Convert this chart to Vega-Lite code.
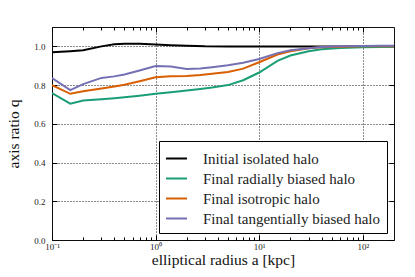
{
  "$schema": "https://vega.github.io/schema/vega-lite/v6.json",
  "width": 342,
  "height": 213,
  "autosize": {"type": "none"},
  "padding": {"left": 52, "top": 27, "right": 21, "bottom": 37},
  "background": "white",
  "config": {
    "view": {"stroke": "#111", "strokeWidth": 1},
    "font": "Liberation Serif",
    "axis": {"labelFont": "Liberation Serif", "titleFont": "Liberation Serif", "labelColor": "#222", "titleColor": "#111", "titleFontWeight": "normal"},
    "legend": {"labelFont": "Liberation Serif", "titleFont": "Liberation Serif"}
  },
  "datasets": {
    "halo": [
      {"r": 0.1, "q": 0.970, "s": "Initial isolated halo"},
      {"r": 0.15, "q": 0.975, "s": "Initial isolated halo"},
      {"r": 0.2, "q": 0.980, "s": "Initial isolated halo"},
      {"r": 0.3, "q": 1.000, "s": "Initial isolated halo"},
      {"r": 0.4, "q": 1.011, "s": "Initial isolated halo"},
      {"r": 0.5, "q": 1.014, "s": "Initial isolated halo"},
      {"r": 0.7, "q": 1.014, "s": "Initial isolated halo"},
      {"r": 1, "q": 1.009, "s": "Initial isolated halo"},
      {"r": 1.4, "q": 1.006, "s": "Initial isolated halo"},
      {"r": 2, "q": 1.003, "s": "Initial isolated halo"},
      {"r": 3, "q": 1.000, "s": "Initial isolated halo"},
      {"r": 5, "q": 0.999, "s": "Initial isolated halo"},
      {"r": 10, "q": 0.999, "s": "Initial isolated halo"},
      {"r": 20, "q": 0.999, "s": "Initial isolated halo"},
      {"r": 50, "q": 0.999, "s": "Initial isolated halo"},
      {"r": 100, "q": 0.999, "s": "Initial isolated halo"},
      {"r": 200, "q": 0.999, "s": "Initial isolated halo"},

      {"r": 0.1, "q": 0.759, "s": "Final radially biased halo"},
      {"r": 0.15, "q": 0.704, "s": "Final radially biased halo"},
      {"r": 0.2, "q": 0.720, "s": "Final radially biased halo"},
      {"r": 0.3, "q": 0.727, "s": "Final radially biased halo"},
      {"r": 0.4, "q": 0.732, "s": "Final radially biased halo"},
      {"r": 0.5, "q": 0.737, "s": "Final radially biased halo"},
      {"r": 0.7, "q": 0.745, "s": "Final radially biased halo"},
      {"r": 1, "q": 0.755, "s": "Final radially biased halo"},
      {"r": 1.4, "q": 0.763, "s": "Final radially biased halo"},
      {"r": 2, "q": 0.772, "s": "Final radially biased halo"},
      {"r": 2.7, "q": 0.780, "s": "Final radially biased halo"},
      {"r": 3.5, "q": 0.787, "s": "Final radially biased halo"},
      {"r": 5, "q": 0.800, "s": "Final radially biased halo"},
      {"r": 7, "q": 0.825, "s": "Final radially biased halo"},
      {"r": 10, "q": 0.865, "s": "Final radially biased halo"},
      {"r": 15, "q": 0.925, "s": "Final radially biased halo"},
      {"r": 20, "q": 0.953, "s": "Final radially biased halo"},
      {"r": 30, "q": 0.975, "s": "Final radially biased halo"},
      {"r": 40, "q": 0.985, "s": "Final radially biased halo"},
      {"r": 60, "q": 0.992, "s": "Final radially biased halo"},
      {"r": 100, "q": 0.996, "s": "Final radially biased halo"},
      {"r": 150, "q": 0.997, "s": "Final radially biased halo"},
      {"r": 200, "q": 0.998, "s": "Final radially biased halo"},

      {"r": 0.1, "q": 0.800, "s": "Final isotropic halo"},
      {"r": 0.15, "q": 0.755, "s": "Final isotropic halo"},
      {"r": 0.2, "q": 0.768, "s": "Final isotropic halo"},
      {"r": 0.3, "q": 0.782, "s": "Final isotropic halo"},
      {"r": 0.4, "q": 0.793, "s": "Final isotropic halo"},
      {"r": 0.5, "q": 0.802, "s": "Final isotropic halo"},
      {"r": 0.7, "q": 0.820, "s": "Final isotropic halo"},
      {"r": 1, "q": 0.840, "s": "Final isotropic halo"},
      {"r": 1.4, "q": 0.846, "s": "Final isotropic halo"},
      {"r": 2, "q": 0.847, "s": "Final isotropic halo"},
      {"r": 2.7, "q": 0.852, "s": "Final isotropic halo"},
      {"r": 3.5, "q": 0.858, "s": "Final isotropic halo"},
      {"r": 5, "q": 0.868, "s": "Final isotropic halo"},
      {"r": 7, "q": 0.885, "s": "Final isotropic halo"},
      {"r": 10, "q": 0.918, "s": "Final isotropic halo"},
      {"r": 15, "q": 0.958, "s": "Final isotropic halo"},
      {"r": 20, "q": 0.975, "s": "Final isotropic halo"},
      {"r": 30, "q": 0.990, "s": "Final isotropic halo"},
      {"r": 40, "q": 0.995, "s": "Final isotropic halo"},
      {"r": 60, "q": 0.998, "s": "Final isotropic halo"},
      {"r": 100, "q": 1.000, "s": "Final isotropic halo"},
      {"r": 150, "q": 1.000, "s": "Final isotropic halo"},
      {"r": 200, "q": 1.000, "s": "Final isotropic halo"},

      {"r": 0.1, "q": 0.836, "s": "Final tangentially biased halo"},
      {"r": 0.15, "q": 0.774, "s": "Final tangentially biased halo"},
      {"r": 0.2, "q": 0.805, "s": "Final tangentially biased halo"},
      {"r": 0.3, "q": 0.837, "s": "Final tangentially biased halo"},
      {"r": 0.4, "q": 0.845, "s": "Final tangentially biased halo"},
      {"r": 0.5, "q": 0.855, "s": "Final tangentially biased halo"},
      {"r": 0.7, "q": 0.875, "s": "Final tangentially biased halo"},
      {"r": 1, "q": 0.898, "s": "Final tangentially biased halo"},
      {"r": 1.4, "q": 0.896, "s": "Final tangentially biased halo"},
      {"r": 2, "q": 0.883, "s": "Final tangentially biased halo"},
      {"r": 2.7, "q": 0.886, "s": "Final tangentially biased halo"},
      {"r": 3.5, "q": 0.892, "s": "Final tangentially biased halo"},
      {"r": 5, "q": 0.902, "s": "Final tangentially biased halo"},
      {"r": 7, "q": 0.915, "s": "Final tangentially biased halo"},
      {"r": 10, "q": 0.935, "s": "Final tangentially biased halo"},
      {"r": 15, "q": 0.965, "s": "Final tangentially biased halo"},
      {"r": 20, "q": 0.980, "s": "Final tangentially biased halo"},
      {"r": 30, "q": 0.990, "s": "Final tangentially biased halo"},
      {"r": 40, "q": 0.997, "s": "Final tangentially biased halo"},
      {"r": 60, "q": 1.000, "s": "Final tangentially biased halo"},
      {"r": 100, "q": 1.002, "s": "Final tangentially biased halo"},
      {"r": 150, "q": 1.003, "s": "Final tangentially biased halo"},
      {"r": 200, "q": 1.003, "s": "Final tangentially biased halo"}
    ]
  },
  "data": {"name": "halo"},
  "resolve": {"axis": {"x": "independent", "y": "independent"}},
  "layer": [
    {
      "mark": {"type": "line", "strokeWidth": 2, "clip": true},
      "encoding": {
        "x": {"field": "r", "type": "quantitative",
          "scale": {"type": "log", "domain": [0.1, 200], "nice": false},
          "axis": {"orient": "bottom", "values": [0.1, 1, 10, 100], "labelExpr": "datum.value < 0.5 ? '10⁻¹' : datum.value < 5 ? '10⁰' : datum.value < 50 ? '10¹' : '10²'",
            "ticks": false, "domain": false, "grid": true, "gridColor": "#000", "gridDash": [1, 2], "gridOpacity": 0.9, "gridWidth": 1,
            "labelFontSize": 9, "labelPadding": 2, "labelFlush": false,
            "title": "elliptical radius a [kpc]", "titleFontSize": 15.5, "titlePadding": 1}},
        "y": {"field": "q", "type": "quantitative",
          "scale": {"domain": [0, 1.1], "nice": false, "zero": false},
          "axis": {"orient": "left", "values": [0, 0.2, 0.4, 0.6, 0.8, 1.0], "format": ".1f",
            "ticks": false, "domain": false, "grid": true, "gridColor": "#000", "gridDash": [1, 2], "gridOpacity": 0.9, "gridWidth": 1,
            "labelFontSize": 9, "labelPadding": 7, "labelFlush": false,
            "title": "axis ratio q", "titleFontSize": 15.5, "titlePadding": 12}},
        "color": {"field": "s", "type": "nominal",
          "scale": {"domain": ["Initial isolated halo", "Final radially biased halo", "Final isotropic halo", "Final tangentially biased halo"],
                    "range": ["#000000", "#1b9e77", "#d95f02", "#7570b3"]},
          "legend": {"title": null, "orient": "bottom-right", "offset": 7, "fillColor": "white", "strokeColor": "#000",
            "padding": 6, "cornerRadius": 0, "symbolType": "stroke", "symbolSize": 440, "symbolStrokeWidth": 2,
            "labelFont": "Liberation Serif", "labelFontSize": 15, "labelColor": "#222", "labelOffset": 15, "rowPadding": 0, "labelLimit": 300}}
      }
    },
    {
      "mark": {"type": "line", "strokeOpacity": 0},
      "encoding": {
        "x": {"field": "r", "type": "quantitative",
          "axis": {"orient": "bottom", "values": [0.1, 1, 10, 100], "labels": false, "grid": false, "domain": false, "ticks": true, "tickSize": -5, "tickColor": "#000", "title": null}},
        "y": {"field": "q", "type": "quantitative",
          "axis": {"orient": "left", "values": [0, 0.2, 0.4, 0.6, 0.8, 1.0], "labels": false, "grid": false, "domain": false, "ticks": true, "tickSize": -5, "tickColor": "#000", "title": null}}
      }
    },
    {
      "mark": {"type": "line", "strokeOpacity": 0},
      "encoding": {
        "x": {"field": "r", "type": "quantitative",
          "axis": {"orient": "top", "values": [0.1, 1, 10, 100], "labels": false, "grid": false, "domain": false, "ticks": true, "tickSize": -5, "tickColor": "#000", "title": null}},
        "y": {"field": "q", "type": "quantitative",
          "axis": {"orient": "right", "values": [0, 0.2, 0.4, 0.6, 0.8, 1.0], "labels": false, "grid": false, "domain": false, "ticks": true, "tickSize": -5, "tickColor": "#000", "title": null}}
      }
    },
    {
      "mark": {"type": "line", "strokeOpacity": 0},
      "encoding": {
        "x": {"field": "r", "type": "quantitative",
          "axis": {"orient": "bottom", "values": [0.2, 0.3, 0.4, 0.5, 0.6, 0.7, 0.8, 0.9, 2, 3, 4, 5, 6, 7, 8, 9, 20, 30, 40, 50, 60, 70, 80, 90], "labels": false, "grid": false, "domain": false, "ticks": true, "tickSize": -3, "tickColor": "#000", "title": null}},
        "y": {"field": "q", "type": "quantitative", "axis": null}
      }
    },
    {
      "mark": {"type": "line", "strokeOpacity": 0},
      "encoding": {
        "x": {"field": "r", "type": "quantitative",
          "axis": {"orient": "top", "values": [0.2, 0.3, 0.4, 0.5, 0.6, 0.7, 0.8, 0.9, 2, 3, 4, 5, 6, 7, 8, 9, 20, 30, 40, 50, 60, 70, 80, 90], "labels": false, "grid": false, "domain": false, "ticks": true, "tickSize": -3, "tickColor": "#000", "title": null}},
        "y": {"field": "q", "type": "quantitative", "axis": null}
      }
    }
  ]
}
